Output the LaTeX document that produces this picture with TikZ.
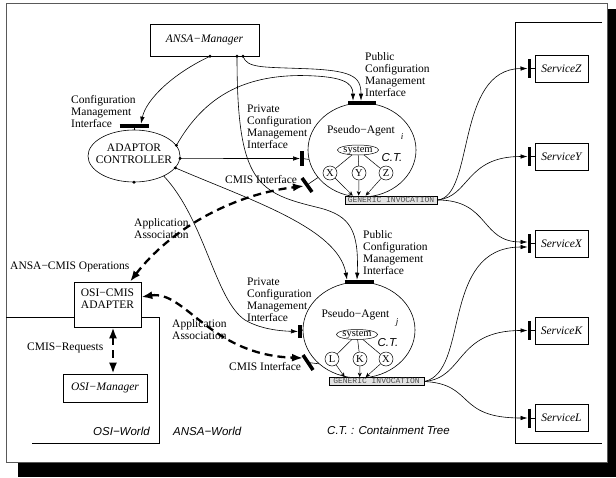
\documentclass[tikz,border=0pt]{standalone}
\usepackage{fontspec}
\setmainfont{Liberation Serif}
\setsansfont{Liberation Sans}
\setmonofont{Liberation Mono}
\usepackage{tikz}
\usetikzlibrary{arrows.meta,calc,shapes.geometric}
\tikzset{
  conn/.style={-{Latex[length=7pt,width=4.5pt]}, line width=0.6pt},
  ctarrow/.style={-{Stealth[length=4.5pt,width=4pt]}, line width=0.45pt},
  assoc/.style={{Latex[length=11pt,width=8pt]}-{Latex[length=11pt,width=8pt]}, line width=2.3pt, dash pattern=on 8pt off 5pt},
  ifbar/.style={line width=3.6pt},
  stub/.style={line width=0.6pt},
  lbl/.style={font=\fontsize{11.5}{12}\selectfont, align=left, inner sep=0pt, anchor=north west},
  world/.style={font=\fontsize{11.5}{12}\selectfont\sffamily\itshape, inner sep=0pt},
  objbox/.style={draw, line width=0.6pt, inner sep=0pt, font=\fontsize{11.5}{12}\selectfont\itshape},
  agent/.style={ellipse, draw, line width=0.6pt, minimum width=108pt, minimum height=94pt, inner sep=0pt},
  sysnode/.style={ellipse, draw, line width=0.5pt, minimum width=40pt, minimum height=10pt, inner sep=0pt,
    text height=4.4pt, text depth=0pt, font=\fontsize{10.5}{10.5}\selectfont},
  ctnode/.style={circle, draw, line width=0.5pt, minimum size=14pt, inner sep=0pt, font=\fontsize{10.5}{10.5}\selectfont},
  gennode/.style={draw, line width=0.6pt, fill=gray!22, text=black!70, inner sep=0.8pt, text height=5.6pt, text depth=1pt,
    font=\fontsize{8}{8}\selectfont\ttfamily},
}
\newcommand{\attdot}[1]{\fill #1 circle (1.6pt);}

\begin{document}
\begin{tikzpicture}[x=1pt,y=-1pt]
  % page frame with its drop shadow
  \useasboundingbox (0,0) rectangle (616,477);
  \fill[black] (608,9) rectangle (616,477);
  \fill[black] (18,463) rectangle (616,477);
  \draw[black!65, line width=0.8pt] (6,3.5) rectangle (607,462);
  % world borders
  \draw[line width=0.6pt] (6,317) -- (159,317) -- (159,443) -- (32,443);
  \draw[line width=0.6pt] (602,22) -- (515,22) -- (515,443) -- (602,443);
  \node[world, anchor=base west] (osiw) at (93,435) {OSI−World};
  \node[world, anchor=base west] (ansaw) at (173,435) {ANSA−World};
  \node[world, anchor=base west] (ctkey) at (327,434) {C.T. : Containment Tree};

  % managers and adapter
  \node[objbox, minimum width=109pt, minimum height=32pt] (mgr) at (204.5,40) {ANSA−Manager};
  \node[objbox, minimum width=84pt, minimum height=28pt] (osimgr) at (105,388) {OSI−Manager};
  \node[draw, fill=white, line width=0.6pt, minimum width=67pt, minimum height=45pt] (adapter) at (107.5,304.5) {};
  \node[font=\fontsize{11.5}{12}\selectfont, align=center, inner sep=0pt] (adapterTxt) at (107.5,299) {OSI−CMIS\\ADAPTER};
  \node[draw, ellipse, line width=0.6pt, minimum width=92pt, minimum height=52pt, inner sep=0pt] (ctrl) at (134,156) {};
  \node[font=\fontsize{11.5}{12}\selectfont, align=center, inner sep=0pt] (ctrlTxt) at (134,154) {ADAPTOR\\CONTROLLER};

  % pseudo-agent i
  \node[agent] (agi) at (362,150) {};
  \node[inner sep=0pt, font=\fontsize{11.5}{12}\selectfont] (agiTxt) at (361,131) {Pseudo−Agent};
  \node[inner sep=0pt, font=\fontsize{9}{9}\selectfont\itshape] (agiSub) at (402,137) {i};
  \node[sysnode] (sysi) at (358,150) {system};
  \node[inner sep=0pt, font=\fontsize{11.5}{12}\selectfont\sffamily\itshape] (cti) at (392,158) {C.T.};
  \node[ctnode] (xi) at (330,173) {X};
  \node[ctnode] (yi) at (359,173) {Y};
  \node[ctnode] (zi) at (386,173) {Z};
  \node[gennode, minimum width=92pt] (geni) at (391,200) {GENERIC INVOCATION};
  \foreach \c in {xi,yi,zi} \draw[line width=0.5pt] (sysi) -- (\c);
  \draw[ctarrow] (xi) -- ($(geni.north west)+(8,0)$);
  \draw[ctarrow] (yi) -- ($(geni.north west)+(14,0)$);
  \draw[ctarrow] (zi) -- ($(geni.north west)+(21,0)$);

  % pseudo-agent j
  \node[agent, minimum width=112pt, minimum height=96pt] (agj) at (359,330) {};
  \node[inner sep=0pt, font=\fontsize{11.5}{12}\selectfont] (agjTxt) at (355.5,315) {Pseudo−Agent};
  \node[inner sep=0pt, font=\fontsize{9}{9}\selectfont\itshape] (agjSub) at (397,322) {j};
  \node[sysnode] (sysj) at (357,334.5) {system};
  \node[inner sep=0pt, font=\fontsize{11.5}{12}\selectfont\sffamily\itshape] (ctj) at (388,343) {C.T.};
  \node[ctnode] (lj) at (332,359) {L};
  \node[ctnode] (kj) at (360,359) {K};
  \node[ctnode] (xj) at (386,359) {X};
  \node[gennode, minimum width=95pt] (genj) at (376.5,381.5) {GENERIC INVOCATION};
  \foreach \c in {lj,kj,xj} \draw[line width=0.5pt] (sysj) -- (\c);
  \draw[ctarrow] (lj) -- ($(genj.north west)+(16,0)$);
  \draw[ctarrow] (kj) -- ($(genj.north west)+(31,0)$);
  \draw[ctarrow] (xj) -- ($(genj.north west)+(37,0)$);

  % services
  \foreach \nm/\yy in {Z/68.5, Y/156.5, X/243.5, K/330.5, L/418} {
    \node[objbox, minimum width=53pt, minimum height=27pt] (svc\nm) at (561.5,\yy) {Service\nm};
    \coordinate (bar\nm) at (529.5,\yy);
    \draw[ifbar] ($(bar\nm)+(0,-9.5)$) -- ($(bar\nm)+(0,9.5)$);
    \draw[stub] (bar\nm) -- (svc\nm.west);
  }

  % interface bars
  \coordinate (cmBar) at ($(ctrl.north)+(0,-4)$);
  \coordinate (pubI) at (agi.north);
  \coordinate (privI) at (302,158.5);
  \coordinate (cmisI) at (307,185);
  \coordinate (pubJ) at (agj.north);
  \coordinate (privJ) at (300,331.5);
  \coordinate (cmisJ) at (308,362.5);
  \draw[ifbar] ($(cmBar)+(-14.5,0)$) -- ($(cmBar)+(14.5,0)$);
  \draw[stub] (cmBar) -- (ctrl.north);
  \draw[ifbar] ($(pubI)+(-14,0)$) -- ($(pubI)+(14,0)$);
  \draw[ifbar] ($(privI)+(0,-7.5)$) -- ($(privI)+(0,7.5)$);
  \draw[stub] (privI) -- (agi.190);
  \draw[ifbar] ($(cmisI)+(-5,-7)$) -- ($(cmisI)+(5,7)$);
  \draw[stub] (cmisI) -- (agi.212);
  \draw[ifbar] ($(pubJ)+(-14.5,0)$) -- ($(pubJ)+(14.5,0)$);
  \draw[ifbar] ($(privJ)+(0,-6.5)$) -- ($(privJ)+(0,6.5)$);
  \draw[stub] (privJ) -- (agj.west);
  \draw[ifbar] ($(cmisJ)+(-5,-7.5)$) -- ($(cmisJ)+(5,7.5)$);
  \draw[stub] (cmisJ) -- (agj.220);

  % interface labels
  \node[lbl] (cmLbl) at (71,95) {Configuration\\Management\\Interface};
  \node[lbl] (pubILbl) at (365,52) {Public\\Configuration\\Management\\Interface};
  \node[lbl] (privILbl) at (247,105) {Private\\Configuration\\Management\\Interface};
  \node[lbl] (cmisILbl) at (225,175) {CMIS Interface};
  \node[lbl] (pubJLbl) at (363,230) {Public\\Configuration\\Management\\Interface};
  \node[lbl] (privJLbl) at (247,278) {Private\\Configuration\\Management\\Interface};
  \node[lbl] (cmisJLbl) at (229,362) {CMIS Interface};
  \node[lbl] (assocA) at (134,218) {Application\\Association};
  \node[lbl] (assocB) at (172,319) {Application\\Association};
  \node[lbl] (opsLbl) at (10,262) {ANSA−CMIS Operations};
  \node[lbl] (reqLbl) at (27,343) {CMIS−Requests};

  % attachment dots
  \coordinate (mgrA) at ($(mgr.south)+(5.5,0)$);
  \coordinate (mgrB) at ($(mgr.south)+(32.5,0)$);
  \coordinate (mgrC) at ($(mgr.south)+(38.5,0)$);
  \attdot{(mgrA)} \attdot{(mgrB)} \attdot{(mgrC)}
  \attdot{(ctrl.14)} \attdot{(ctrl.-3)} \attdot{(ctrl.-16)} \attdot{(ctrl.south)}

  % management connections
  \draw[conn] (mgrA) .. controls (172,74) and (146,100) .. ($(cmBar)+(7,-2)$);
  \draw[conn] (mgrC) .. controls (247,68) and (262,67) .. (300,68.5) .. controls (352,70) and (361,76) .. ($(pubI)+(-1,-2)$);
  \draw[conn] (ctrl.14) .. controls (205,95) and (245,76) .. (300,75.5) .. controls (342,76) and (353,82) .. ($(pubI)+(-9,-2)$);
  \draw[conn] (ctrl.-3) -- ($(privI)+(-2,0)$);
  \draw[conn] (mgrB) .. controls (237,185) and (258,193) .. (320,208) .. controls (350,216) and (359,230) .. ($(pubJ)+(-2,-2)$);
  \draw[conn] (ctrl.-16) .. controls (250,200) and (338,228) .. ($(pubJ)+(-12,-2)$);
  \draw[conn] (ctrl.-34) .. controls (205,220) and (215,300) .. (245,320) .. controls (260,329) and (280,331) .. ($(privJ)+(-2,0)$);

  % application associations
  \draw[assoc] ([xshift=22.5pt]adapter.north) .. controls (170,230) and (230,195) .. ($(cmisI)+(-3,1)$);
  \draw[assoc] ([yshift=7.5pt]adapter.east) .. controls (185,290) and (210,355) .. ($(cmisJ)+(-5,-4.5)$);
  \draw[assoc] ([xshift=5.5pt]adapter.south) -- ([xshift=8pt]osimgr.north);

  % generic invocation to services
  \draw[conn] (geni.east) .. controls (475,197) and (455,69) .. ($(barZ)+(-2,0)$);
  \draw[conn] (geni.east) .. controls (470,197) and (465,156.5) .. ($(barY)+(-2,0)$);
  \draw[conn] (geni.east) .. controls (490,200) and (480,242) .. ($(barX)+(-2,-1.5)$);
  \draw[conn] (genj.east) .. controls (470,372) and (440,247) .. ($(barX)+(-2,3.5)$);
  \draw[conn] (genj.east) .. controls (465,378) and (455,330.5) .. ($(barK)+(-2,0)$);
  \draw[conn] (genj.east) .. controls (475,384) and (455,418) .. ($(barL)+(-2,0)$);
\end{tikzpicture}
\end{document}
